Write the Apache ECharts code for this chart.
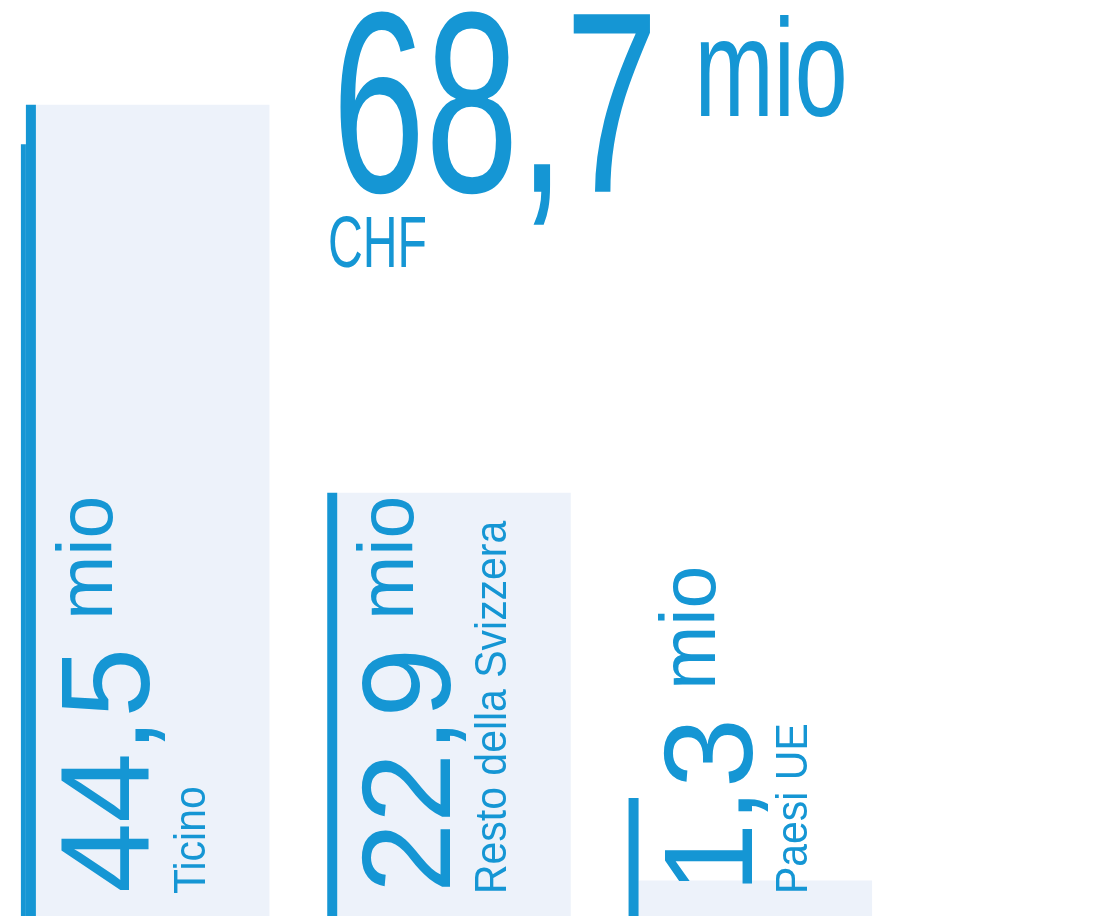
<!DOCTYPE html>
<html><head><meta charset="utf-8">
<script src="https://cdn.jsdelivr.net/npm/echarts/dist/echarts.min.js"></script>
<style>html,body{margin:0;padding:0;background:#fff}#c{width:1101px;height:916px}</style>
</head><body><div id="c"></div>
<script>
// ---- data ----
const categories = ['Ticino', 'Resto della Svizzera', 'Paesi UE'];
const values = [44.5, 22.9, 1.3];
const unitLabel = 'mio';
const currencyLabel = 'CHF';

// ---- style ----
const BLUE = '#1596d4';
const FILL = '#edf2fa';
const FONT = '"Liberation Sans", Arial, sans-serif';
const Y_MIN = -0.67, Y_MAX = 50;
const ACC_W = 10;
const ACCENT_MIN = 5.9;
const MID_OFF = 0.30; // baseline offset from 'middle' in em
const NUM_SIZE = 126, UNIT_SIZE = 77, CAT_SIZE = 45, CAT_SCALE = 0.91;

const fmt = v => v.toFixed(1).replace('.', ',');
const mctx = document.createElement('canvas').getContext('2d');
function measure(t, size) { mctx.font = size + 'px ' + FONT; return mctx.measureText(t).width; }

function rotText(text, size, baselineX, startY, scale) {
  return {
    type: 'text', x: baselineX - MID_OFF * size, y: startY, rotation: Math.PI / 2,
    scaleX: scale || 1, scaleY: 1,
    style: { text: text, font: size + 'px ' + FONT, fill: BLUE, align: 'left', verticalAlign: 'middle' }
  };
}

function renderItem(params, api) {
  const i = api.value(0), v = api.value(1);
  const band = api.size([1, 0])[0];
  const top = api.coord([i, v]);
  const base = api.coord([i, Y_MIN]);
  const fillW = band * 0.775;
  const left = top[0] - fillW / 2;
  const accTop = api.coord([i, Math.max(v, ACCENT_MIN)])[1];
  const children = [
    { type: 'rect', shape: { x: left, y: top[1], width: fillW, height: base[1] - top[1] }, style: { fill: FILL } },
    { type: 'rect', shape: { x: left - ACC_W, y: accTop, width: ACC_W, height: base[1] - accTop }, style: { fill: BLUE } }
  ];
  if (i === 0) {
    const stubTop = api.coord([i, v - 2.2])[1];
    children.push({ type: 'rect', shape: { x: left - ACC_W - 5, y: stubTop, width: 5, height: base[1] - stubTop }, style: { fill: BLUE } });
  }
  const numTxt = fmt(v);
  const numW = measure(numTxt, NUM_SIZE);
  const y0 = base[1] - 23;
  children.push(rotText(numTxt, NUM_SIZE, left + 116, y0));
  children.push(rotText(unitLabel, UNIT_SIZE, left + 78, y0 - numW - 28));
  children.push(rotText(categories[i], CAT_SIZE, left + 170, y0 + 1, CAT_SCALE));
  return { type: 'group', children: children };
}

const total = values.reduce((a, b) => a + b, 0);
const totalTxt = fmt(total);
const H_SIZE = 258, H_SCALE = 0.65, HU_SIZE = 140, HU_SCALE = 0.68, C_SIZE = 73, C_SCALE = 0.66;
const hx = 332;
const hw = measure(totalTxt, H_SIZE) * H_SCALE;

const chart = echarts.init(document.getElementById('c'), null, { renderer: 'canvas' });
chart.setOption({
  animation: false,
  grid: { left: 2, right: 195, top: 6, bottom: 0 },
  xAxis: { type: 'category', data: categories, show: false },
  yAxis: { type: 'value', min: Y_MIN, max: Y_MAX, show: false, splitLine: { show: false } },
  series: [{ type: 'custom', renderItem: renderItem, clip: false, data: values.map((v, i) => [i, v]) }],
  graphic: [
    { type: 'text', x: hx, y: 198 - MID_OFF * H_SIZE, scaleX: H_SCALE, scaleY: 1,
      style: { text: totalTxt, font: H_SIZE + 'px ' + FONT, fill: BLUE, verticalAlign: 'middle' } },
    { type: 'text', x: hx + hw + 36, y: 119 - MID_OFF * HU_SIZE, scaleX: HU_SCALE, scaleY: 1,
      style: { text: unitLabel, font: HU_SIZE + 'px ' + FONT, fill: BLUE, verticalAlign: 'middle' } },
    { type: 'text', x: 328, y: 269 - MID_OFF * C_SIZE, scaleX: C_SCALE, scaleY: 1,
      style: { text: currencyLabel, font: C_SIZE + 'px ' + FONT, fill: BLUE, verticalAlign: 'middle' } }
  ]
});
</script></body></html>
